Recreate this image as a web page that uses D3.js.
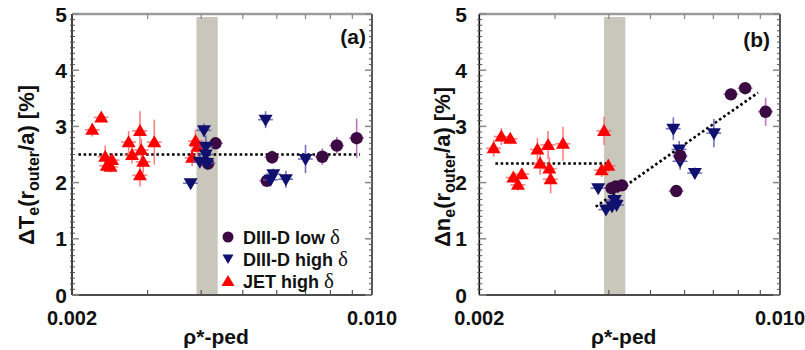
<!DOCTYPE html>
<html><head><meta charset="utf-8">
<script src="https://cdn.jsdelivr.net/npm/d3@7"></script>
<style>
body{margin:0;background:#fff;}
svg{display:block;font-family:"Liberation Sans",Arial,Helvetica,sans-serif;font-weight:bold;}
</style>
</head><body>
<svg id="chart" width="805" height="350"></svg>
<script>
// ---------- data ----------
const xDomain = [0.002, 0.010];
const yDomain = [0, 5];
const yTicks = [0, 1, 2, 3, 4, 5];
const xTickValues = [0.002, 0.010];
const xTickLabels = ["0.002", "0.010"];
const xMinorTicks = [0.003, 0.004, 0.005, 0.006, 0.007, 0.008, 0.009];
const bandRange = [0.0039, 0.00437];
const xErrFrac = 0.04;

// panel (a): ΔTe
const jetA_x = [0.00223,0.00234,0.00239,0.00241,0.00246,0.00248,0.00271,0.00276,0.00288,0.00290,0.00293,0.00288,0.00311,0.00381,0.00388,0.00392];
const jetA_y = [2.94,3.16,2.46,2.30,2.28,2.40,2.72,2.49,2.92,2.58,2.37,2.13,2.72,2.44,2.74,2.64];
const jetA_e = [0.12,0.08,0.20,0.10,0.10,0.10,0.20,0.15,0.35,0.20,0.20,0.20,0.40,0.15,0.20,0.15];
const hiA_x = [0.00406,0.00378,0.00410,0.00397,0.00413,0.00410,0.00565,0.00589,0.00580,0.00630,0.00700];
const hiA_y = [2.93,1.99,2.64,2.37,2.35,2.50,3.12,2.15,2.05,2.06,2.42];
const hiA_e = [0.12,0.08,0.20,0.10,0.10,0.10,0.15,0.10,0.10,0.15,0.25];
const loA_x = [0.00432,0.00415,0.00585,0.00569,0.00766,0.00828,0.00921];
const loA_y = [2.70,2.34,2.45,2.03,2.46,2.66,2.79];
const loA_e = [0.08,0.08,0.12,0.08,0.15,0.15,0.35];
const fitA_x = [0.00207, 0.00938];
const fitA_y = [2.50, 2.50];

// panel (b): Δne
const jetB_x = [0.00225,0.00236,0.00216,0.00273,0.00289,0.00313,0.00277,0.00291,0.00293,0.00240,0.00251,0.00246,0.00390,0.00399,0.00385];
const jetB_y = [2.82,2.78,2.61,2.59,2.67,2.69,2.34,2.25,2.06,2.09,2.15,1.96,2.92,2.30,2.22];
const jetB_e = [0.15,0.10,0.15,0.20,0.25,0.30,0.20,0.20,0.25,0.10,0.10,0.10,0.25,0.12,0.12];
const hiB_x = [0.00378,0.00394,0.00413,0.00417,0.00407,0.00565,0.00583,0.00586,0.00634,0.00702];
const hiB_y = [1.90,1.52,1.69,1.60,1.58,2.96,2.59,2.38,2.17,2.88];
const hiB_e = [0.08,0.08,0.10,0.10,0.10,0.20,0.15,0.15,0.10,0.25];
const loB_x = [0.00406,0.00415,0.00429,0.00574,0.00586,0.00769,0.00830,0.00926];
const loB_y = [1.90,1.93,1.95,1.85,2.48,3.57,3.68,3.26];
const loB_e = [0.05,0.05,0.05,0.08,0.12,0.10,0.10,0.25];
const fitB1_x = [0.00218, 0.00402];
const fitB1_y = [2.34, 2.34];
const fitB2_x = [0.00373, 0.00889];
const fitB2_y = [1.57, 3.60];

const legendLabels = ["DIII-D low ", "DIII-D high ", "JET high "];

// ---------- styles ----------
const COL = {
  jet: {fill:"#ff0000", err:"#ff6a6a"},
  hi:  {fill:"#10106e", err:"#5a5ab0"},
  lo:  {fill:"#3c0a42", err:"#b060b0"}
};
const upTri = "M0,-7L7,5L-7,5Z";
const downTri = "M0,7L7,-5L-7,-5Z";

const svg = d3.select("#chart");
const TOP = 14, BOTTOM = 295;
const y = d3.scaleLinear().domain(yDomain).range([BOTTOM, TOP]);

const panels = [
  {left:72, right:372, tickEnd:67, titleX:34, titleY:165, title:["Δ","T","e"], tag:"(a)", tagX:366, tagY:44,
   series:[["jet",jetA_x,jetA_y,jetA_e],["lo",loA_x,loA_y,loA_e],["hi",hiA_x,hiA_y,hiA_e]],
   fits:[[fitA_x,fitA_y]], legend:true},
  {left:479.3, right:780, tickEnd:467, titleX:450, titleY:167, title:["Δ","n","e"], tag:"(b)", tagX:770, tagY:47,
   series:[["jet",jetB_x,jetB_y,jetB_e],["hi",hiB_x,hiB_y,hiB_e],["lo",loB_x,loB_y,loB_e]],
   fits:[[fitB1_x,fitB1_y],[fitB2_x,fitB2_y]], legend:false}
];

panels.forEach(p => {
  const x = d3.scaleLog().domain(xDomain).range([p.left, p.right]);
  const g = svg.append("g");

  // shaded band
  g.append("rect").attr("x", x(bandRange[0])).attr("y", TOP+3)
    .attr("width", x(bandRange[1]) - x(bandRange[0])).attr("height", BOTTOM - TOP - 4)
    .attr("fill", "#c9c7bc");

  // frame
  g.append("line").attr("x1", p.left).attr("x2", p.right).attr("y1", TOP).attr("y2", TOP)
    .attr("stroke", "#9c9c9c").attr("stroke-width", 2.5);
  g.append("line").attr("x1", p.right).attr("x2", p.right).attr("y1", TOP).attr("y2", BOTTOM)
    .attr("stroke", "#222").attr("stroke-width", 1.5);
  g.append("line").attr("x1", p.left).attr("x2", p.left).attr("y1", TOP).attr("y2", BOTTOM)
    .attr("stroke", "#111").attr("stroke-width", 1.6);
  g.append("line").attr("x1", p.left).attr("x2", p.right).attr("y1", BOTTOM).attr("y2", BOTTOM)
    .attr("stroke", "#111").attr("stroke-width", 1.6);

  // y minor ticks
  const minorY = d3.range(0, 50).map(i => i / 10).filter(v => !Number.isInteger(v));
  minorY.forEach(v => {
    g.append("line").attr("x1", p.left - 2).attr("x2", p.left + 3).attr("y1", y(v)).attr("y2", y(v))
      .attr("stroke", "#555").attr("stroke-width", 1);
    g.append("line").attr("x1", p.right - 3).attr("x2", p.right).attr("y1", y(v)).attr("y2", y(v))
      .attr("stroke", "#555").attr("stroke-width", 1);
  });
  yTicks.forEach(v => {
    g.append("line").attr("x1", p.left).attr("x2", p.left + 7).attr("y1", y(v)).attr("y2", y(v))
      .attr("stroke", "#888").attr("stroke-width", 1.5);
    g.append("line").attr("x1", p.right - 7).attr("x2", p.right).attr("y1", y(v)).attr("y2", y(v))
      .attr("stroke", "#888").attr("stroke-width", 1.5);
    g.append("text").attr("x", p.tickEnd).attr("y", y(v) + 7.5).attr("text-anchor", "end")
      .attr("font-size", 21).attr("fill", "#111").text(v);
  });
  // x minor ticks
  xMinorTicks.forEach(v => {
    g.append("line").attr("x1", x(v)).attr("x2", x(v)).attr("y1", BOTTOM - 5).attr("y2", BOTTOM)
      .attr("stroke", "#555").attr("stroke-width", 1.2);
    g.append("line").attr("x1", x(v)).attr("x2", x(v)).attr("y1", TOP).attr("y2", TOP + 5)
      .attr("stroke", "#888").attr("stroke-width", 1.2);
  });
  xTickValues.forEach((v, i) => {
    g.append("text").attr("x", x(v)).attr("y", 325).attr("text-anchor", "middle")
      .attr("font-size", 20).attr("fill", "#111").text(xTickLabels[i]);
  });
  // x title
  g.append("text").attr("x", (p.left + p.right) / 2 - 6).attr("y", 344).attr("text-anchor", "middle")
    .attr("font-size", 21).attr("fill", "#111").text("ρ*-ped");

  // y title
  const t = g.append("text").attr("transform", `translate(${p.titleX},${p.titleY}) rotate(-90)`)
    .attr("text-anchor", "middle").attr("font-size", 22).attr("fill", "#111");
  t.append("tspan").text(p.title[0] + p.title[1]);
  t.append("tspan").attr("font-size", 16).attr("dy", 5).text(p.title[2]);
  t.append("tspan").attr("dy", -5).text("(r");
  t.append("tspan").attr("font-size", 16).attr("dy", 5).text("outer");
  t.append("tspan").attr("dy", -5).text("/a) [%]");

  // panel tag
  g.append("text").attr("x", p.tagX).attr("y", p.tagY).attr("text-anchor", "end")
    .attr("font-size", 21).attr("fill", "#111").text(p.tag);

  // fits
  const line = d3.line().x(d => x(d[0])).y(d => y(d[1]));
  p.fits.forEach(f => {
    g.append("path").attr("d", line(f[0].map((v, i) => [v, f[1][i]])))
      .attr("fill", "none").attr("stroke", "#000").attr("stroke-width", 2.6)
      .attr("stroke-dasharray", "2.6 2.6");
  });

  // series
  p.series.forEach(([key, xs, ys, es]) => {
    const c = COL[key];
    const pts = xs.map((v, i) => ({x: v, y: ys[i], e: es[i]}));
    const eg = g.append("g").attr("stroke", c.err).attr("stroke-width", 1.6).attr("opacity", 0.85);
    pts.forEach(d => {
      eg.append("line").attr("x1", x(d.x)).attr("x2", x(d.x)).attr("y1", y(d.y - d.e)).attr("y2", y(d.y + d.e));
      eg.append("line").attr("x1", x(d.x * (1 - xErrFrac))).attr("x2", x(d.x * (1 + xErrFrac)))
        .attr("y1", y(d.y)).attr("y2", y(d.y));
    });
    const mg = g.append("g");
    pts.forEach(d => {
      if (key === "lo") {
        mg.append("circle").attr("cx", x(d.x)).attr("cy", y(d.y)).attr("r", 6.2).attr("fill", c.fill);
      } else {
        mg.append("path").attr("d", key === "jet" ? upTri : downTri)
          .attr("transform", `translate(${x(d.x)},${y(d.y)})`).attr("fill", c.fill);
      }
    });
  });

  // legend
  if (p.legend) {
    const rows = [["lo", 237], ["hi", 259], ["jet", 281]];
    rows.forEach(([key, ry], i) => {
      const c = COL[key];
      if (key === "lo") {
        g.append("circle").attr("cx", 228).attr("cy", ry).attr("r", 5.5).attr("fill", c.fill);
      } else {
        g.append("path").attr("d", key === "jet" ? "M0,-6L6.5,5L-6.5,5Z" : "M0,5L5.5,-4.5L-5.5,-4.5Z")
          .attr("transform", `translate(228,${ry})`).attr("fill", c.fill);
      }
      const tx = g.append("text").attr("x", 243).attr("y", ry + 7).attr("font-size", 18).attr("fill", "#111");
      tx.append("tspan").text(legendLabels[i]);
      tx.append("tspan").attr("font-family", "'Liberation Serif','DejaVu Serif',serif").attr("font-weight", "normal")
        .attr("font-size", 21).text("δ");
    });
  }
});
</script>
</body></html>
